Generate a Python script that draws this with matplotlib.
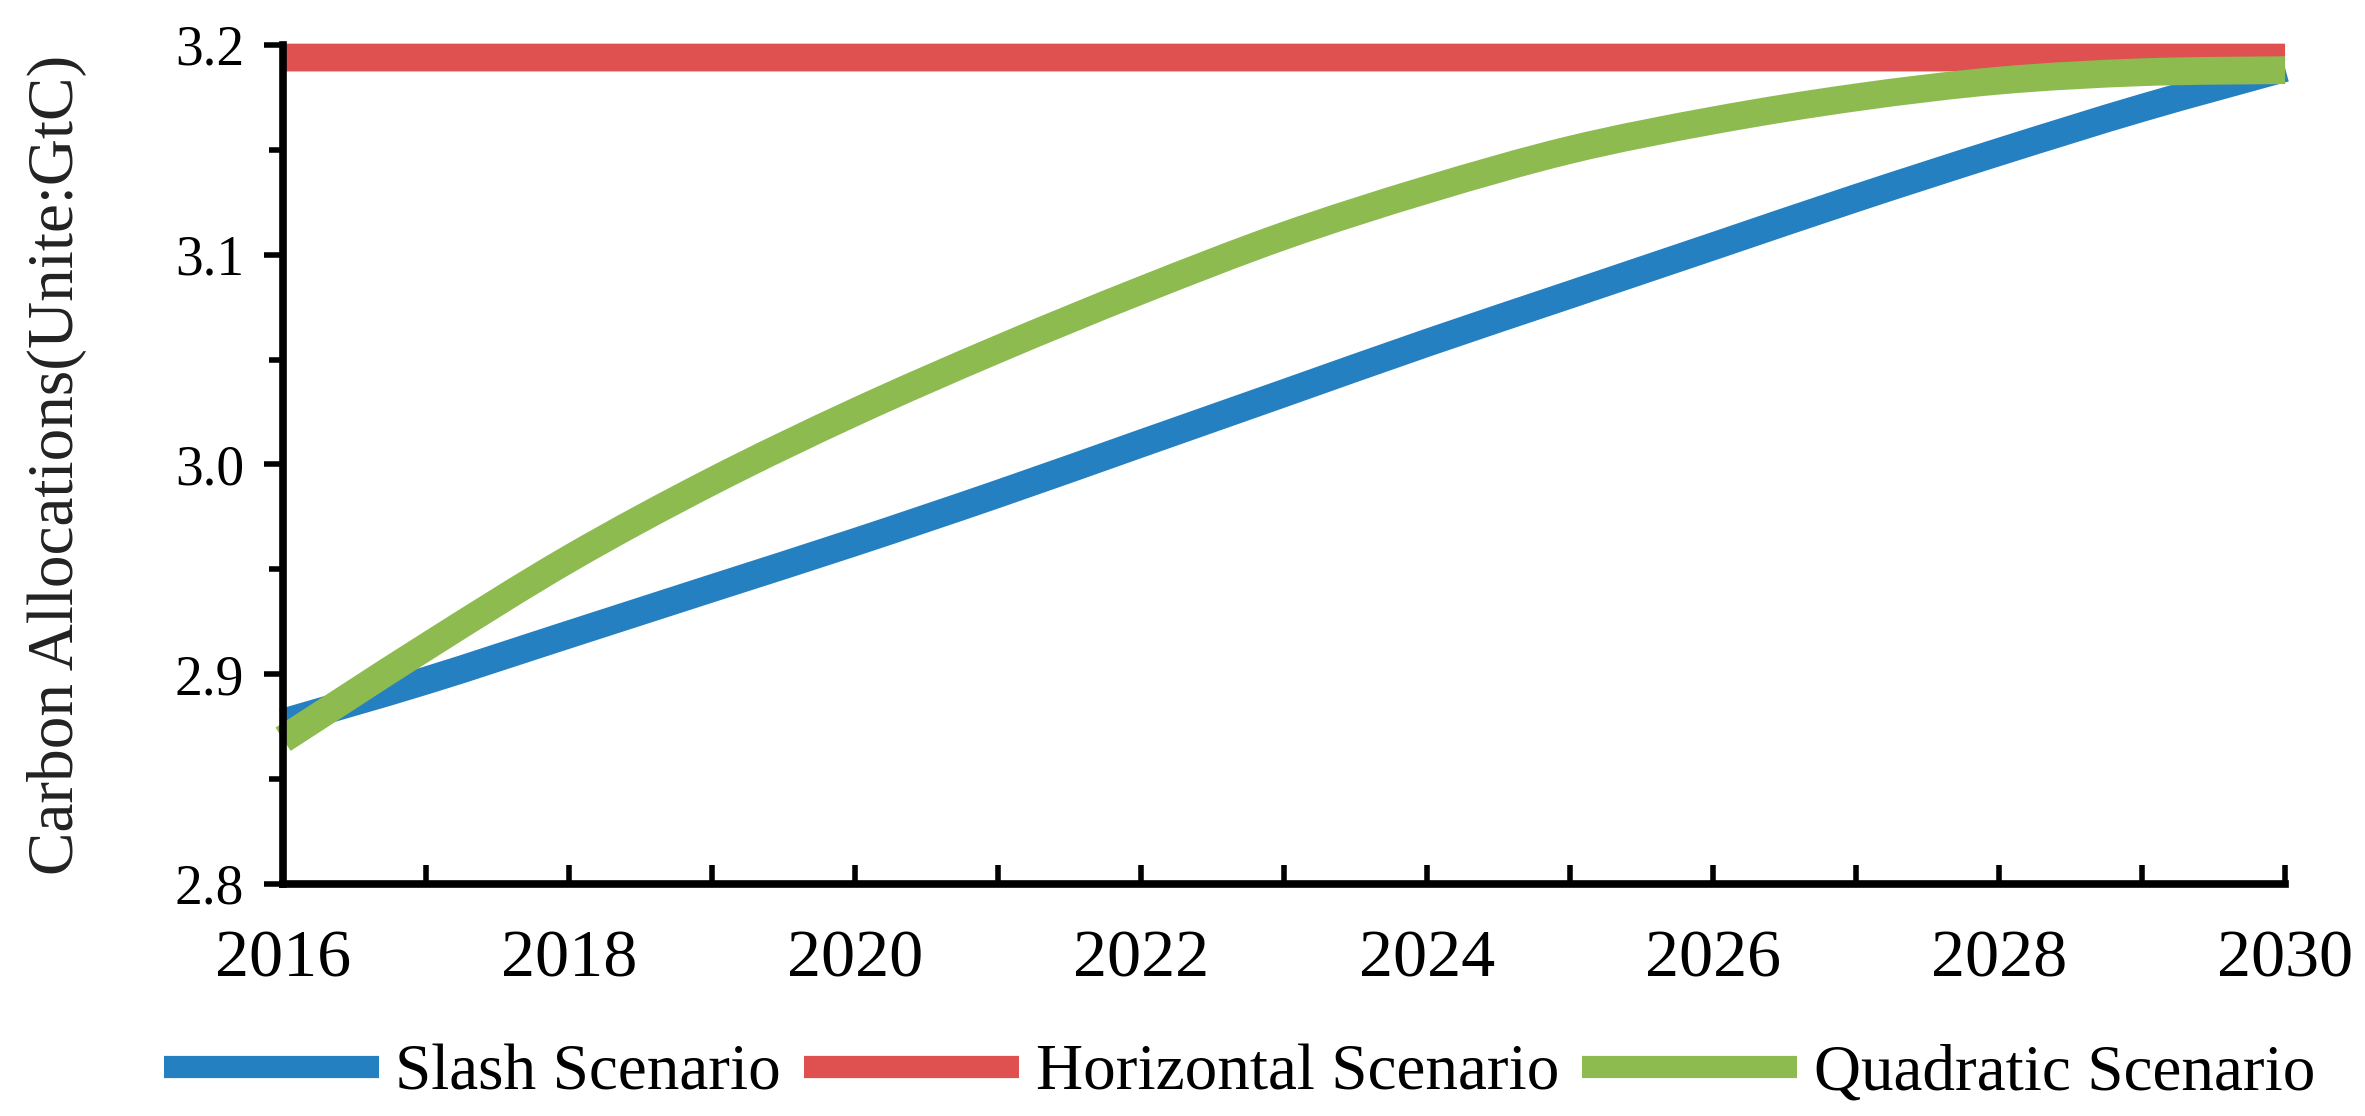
import matplotlib
matplotlib.use('Agg')
import matplotlib.pyplot as plt
from matplotlib.ticker import MultipleLocator, FormatStrFormatter
from matplotlib.path import Path
from matplotlib.patches import PathPatch
from matplotlib.lines import Line2D

plt.rcParams['font.family'] = ['Liberation Serif', 'DejaVu Serif']

years = list(range(2016, 2031))
slash = [2.877, 2.897, 2.919, 2.941, 2.963, 2.986, 3.010, 3.034,
         3.058, 3.081, 3.104, 3.127, 3.149, 3.170, 3.189]
horizontal = [3.194] * 15
quadratic = [2.869, 2.913, 2.955, 2.992, 3.025, 3.055, 3.083, 3.109,
             3.131, 3.150, 3.164, 3.175, 3.183, 3.187, 3.188]
labels = ['Slash Scenario', 'Horizontal Scenario', 'Quadratic Scenario']
colors = ['#2580C1', '#DF5050', '#8DBB50']


def smooth_path(x, y):
    # excel style smoothed line: catmull-rom segments as cubic beziers
    n = len(x)
    verts = [(x[0], y[0])]
    codes = [Path.MOVETO]
    for i in range(n - 1):
        a, b = max(i - 1, 0), min(i + 2, n - 1)
        c1 = (x[i] + (x[i + 1] - x[a]) / 6, y[i] + (y[i + 1] - y[a]) / 6)
        c2 = (x[i + 1] - (x[b] - x[i]) / 6, y[i + 1] - (y[b] - y[i]) / 6)
        verts += [c1, c2, (x[i + 1], y[i + 1])]
        codes += [Path.CURVE4] * 3
    return Path(verts, codes)


fig = plt.figure(figsize=(23.65, 11.16), dpi=100)
ax = fig.add_axes([0.1197, 0.2079, 0.8465, 0.7518])

lw = 20
handles = []
for ys, lab, col in zip([slash, horizontal, quadratic], labels, colors):
    ax.add_patch(PathPatch(smooth_path(years, ys), fill=False, edgecolor=col,
                           lw=lw, capstyle='butt', joinstyle='round',
                           clip_on=False))
    handles.append(Line2D([], [], color=col, lw=16, label=lab,
                          solid_capstyle='butt'))

ax.set_xlim(2016, 2030)
ax.set_ylim(2.8, 3.2)
ax.set_xticks(range(2016, 2031, 2))
ax.xaxis.set_minor_locator(MultipleLocator(1))
ax.yaxis.set_major_locator(MultipleLocator(0.1))
ax.yaxis.set_minor_locator(MultipleLocator(0.05))
ax.yaxis.set_major_formatter(FormatStrFormatter('%.1f'))

for s in ['top', 'right']:
    ax.spines[s].set_visible(False)
for s in ['left', 'bottom']:
    ax.spines[s].set_linewidth(5.5)
    ax.spines[s].set_color('black')

ax.tick_params(axis='x', which='both', direction='in', length=14, width=4,
               labelsize=49, pad=33)
ax.tick_params(axis='y', which='major', direction='out', length=14, width=4,
               labelsize=40, pad=14)
ax.tick_params(axis='y', which='minor', direction='out', length=10, width=4)

ax.set_ylabel('Carbon Allocations(Unite:GtC)', fontsize=47, color='#222222')
ax.yaxis.set_label_coords(-0.098, 0.5)

fig.legend(handles=handles, loc='center', bbox_to_anchor=(0.524, 0.038),
           ncol=3, fontsize=47, frameon=False, handlelength=3.3,
           handletextpad=0.25, columnspacing=0.35)

fig.savefig('out.png', dpi=100)
